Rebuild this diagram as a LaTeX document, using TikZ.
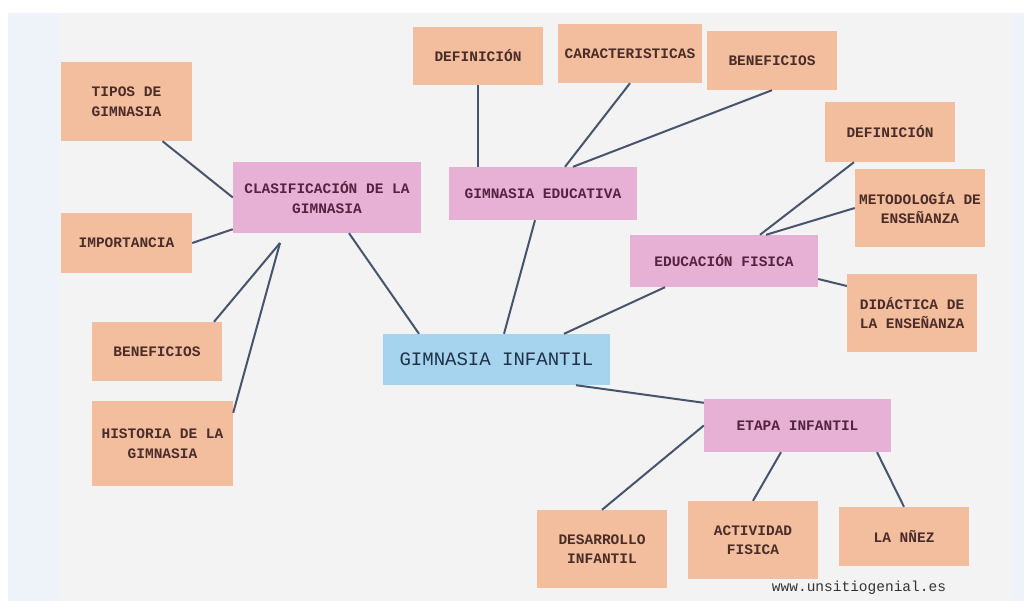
\documentclass[tikz,border=0pt]{standalone}
\usepackage{fontspec}
\usepackage{tikz}
\newfontfamily\mapfont{Liberation Mono}
\definecolor{peach}{HTML}{F3BE9E}
\definecolor{orchid}{HTML}{E7B1D6}
\definecolor{skyblue}{HTML}{A6D3EE}
\definecolor{panelgray}{HTML}{F3F3F3}
\definecolor{sideblue}{HTML}{EEF2F9}
\definecolor{linkblue}{HTML}{46556B}
\definecolor{peachtext}{HTML}{4A2C28}
\definecolor{orchidtext}{HTML}{53233F}
\definecolor{skytext}{HTML}{1E3246}

\begin{document}
\begin{tikzpicture}[x=1pt, y=-1pt,
    leaf/.style={fill=peach, text=peachtext, inner sep=0pt, align=center,
                 font=\mapfont\bfseries\fontsize{14.5}{19.5}\selectfont},
    topic/.style={fill=orchid, text=orchidtext, inner sep=0pt, align=center,
                  font=\mapfont\bfseries\fontsize{14.5}{19.5}\selectfont},
    link/.style={draw=linkblue, line width=2pt}]
                            % background
                            \useasboundingbox (0,0) rectangle (1024,601);
                            \fill[white]      (0,0)    rectangle (1024,601);
                            \fill[sideblue]   (8,13)   rectangle (60,601);
                            \fill[panelgray]  (60,13)  rectangle (1013,601);
                            \fill[sideblue]   (1013,13) rectangle (1024,601);
                            % centre
                            \node[fill=skyblue, text=skytext, minimum width=227, minimum height=51,
                                  font=\mapfont\fontsize{19}{23}\selectfont] (n0) at (496.5,359.5) {GIMNASIA INFANTIL};
                            % topics
                            \node[topic, minimum width=188, minimum height=71] (c0) at (327,197.5) {CLASIFICACIÓN DE LA\\GIMNASIA};
                            \node[topic, minimum width=188, minimum height=53] (c1) at (543,193.5) {GIMNASIA EDUCATIVA};
                            \node[topic, minimum width=188, minimum height=52] (c2) at (724,261)   {EDUCACIÓN FISICA};
                            \node[topic, minimum width=187, minimum height=53] (c3) at (797.5,425.5) {ETAPA INFANTIL};
                            % leaves
                            \node[leaf, minimum width=131, minimum height=79] (t0)  at (126.5,101.5) {TIPOS DE\\GIMNASIA};
                            \node[leaf, minimum width=131, minimum height=60] (t1)  at (126.5,243)   {IMPORTANCIA};
                            \node[leaf, minimum width=130, minimum height=59] (t2)  at (157,351.5)   {BENEFICIOS};
                            \node[leaf, minimum width=141, minimum height=85] (t3)  at (162.5,443.5) {HISTORIA DE LA\\GIMNASIA};
                            \node[leaf, minimum width=130, minimum height=58] (t4)  at (478,56)      {DEFINICIÓN};
                            \node[leaf, minimum width=144, minimum height=59] (t5)  at (630,53.5)    {CARACTERISTICAS};
                            \node[leaf, minimum width=130, minimum height=59] (t6)  at (772,60.5)    {BENEFICIOS};
                            \node[leaf, minimum width=130, minimum height=60] (t7)  at (890,132)     {DEFINICIÓN};
                            \node[leaf, minimum width=130, minimum height=78] (t8)  at (920,208)     {METODOLOGÍA DE\\ENSEÑANZA};
                            \node[leaf, minimum width=130, minimum height=78] (t9)  at (912,313)     {DIDÁCTICA DE\\LA ENSEÑANZA};
                            \node[leaf, minimum width=130, minimum height=78] (t10) at (602,549)     {DESARROLLO\\INFANTIL};
                            \node[leaf, minimum width=130, minimum height=78] (t11) at (753,540)     {ACTIVIDAD\\FISICA};
                            \node[leaf, minimum width=130, minimum height=59] (t12) at (904,536.5)   {LA NÑEZ};
                            \node[text=black!80, font=\mapfont\fontsize{14.5}{17}\selectfont] (w0) at (859,588) {www.unsitiogenial.es};
                            \coordinate (j0) at (280,243);
                            % links
                            \draw[link] ([xshift=36]t0.south)       -- (c0.west);
                            \draw[link] (t1.east)                   -- ([yshift=4]c0.south west);
                            \draw[link] ([xshift=57]t2.north)       -- (j0);
                            \draw[link] ([yshift=-12]t3.north east) -- (j0);
                            \draw[link] ([xshift=22]c0.south)       -- ([xshift=-77.5]n0.north);
                            \draw[link] ([xshift=-8]c1.south)       -- ([xshift=7.5]n0.north);
                            \draw[link] (t4.south)                  -- ([xshift=-65]c1.north);
                            \draw[link] (t5.south)                  -- ([xshift=22]c1.north);
                            \draw[link] (t6.south)                  -- ([xshift=30]c1.north);
                            \draw[link] ([xshift=-36]t7.south)      -- ([xshift=36]c2.north);
                            \draw[link] (t8.west)                   -- ([xshift=42]c2.north);
                            \draw[link] ([yshift=-18]c2.east)       -- ([yshift=27]t9.west);
                            \draw[link] ([xshift=-59]c2.south)      -- ([xshift=67.5]n0.north);
                            \draw[link] ([xshift=79.5]n0.south)     -- ([yshift=-4]c3.north west);
                            \draw[link] (c3.west)                   -- (t10.north);
                            \draw[link] ([xshift=-16.5]c3.south)    -- (t11.north);
                            \draw[link] ([xshift=79.5]c3.south)     -- (t12.north);
                        \end{tikzpicture}
\end{document}
